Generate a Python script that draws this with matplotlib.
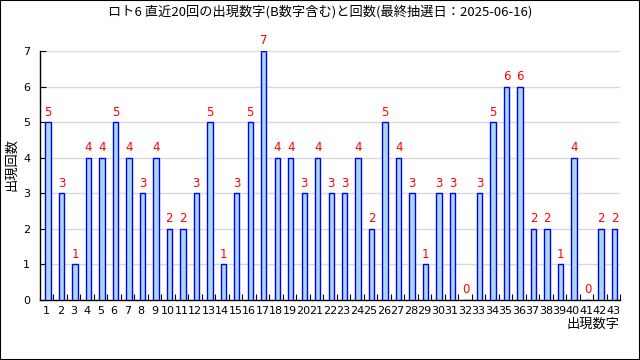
import matplotlib
matplotlib.use("Agg")
import matplotlib.pyplot as plt
from matplotlib.patches import Rectangle

plt.rcParams['font.family'] = ['Noto Sans CJK JP', 'DejaVu Sans']

numbers = list(range(1, 44))
counts = [5, 3, 1, 4, 4, 5, 4, 3, 4, 2, 2, 3, 5, 1, 3, 5, 7, 4, 4, 3, 4, 3, 3, 4, 2,
          5, 4, 3, 1, 3, 3, 0, 3, 5, 6, 6, 2, 2, 1, 4, 0, 2, 2]
title = "ロト6 直近20回の出現数字(B数字含む)と回数(最終抽選日：2025-06-16)"

fig = plt.figure(figsize=(6.4, 3.6), dpi=100)
ax = fig.add_axes([40/640, 60/360, 580/640, 249/360])

xs = [n + 0.09 for n in numbers]
ax.bar(xs, counts, width=0.4, color='#add8e6', edgecolor='#0000ff', linewidth=1.0, zorder=3)
for x, c in zip(xs, counts):
    ax.text(x, c + 0.1, str(c), color='red', ha='center', va='bottom', fontsize=8.5,
            family='DejaVu Sans', zorder=4)

ax.set_xlim(0.5, 43.5)
ax.set_ylim(0, 7)
ax.set_yticks(range(0, 8))
ax.set_xticks(numbers)
ax.set_xticklabels([str(n) for n in numbers], family='DejaVu Sans')
ax.set_xticks([n + 0.5 for n in numbers], minor=True)
ax.tick_params(axis='x', which='major', length=0, labelsize=8, pad=4)
ax.tick_params(axis='x', which='minor', length=4, direction='in', width=0.8)
ax.tick_params(axis='y', which='major', length=4, direction='in', labelsize=8, pad=7)
for lab in ax.get_yticklabels():
    lab.set_family('DejaVu Sans')
ax.yaxis.grid(True, color='#d9d9d9', linewidth=1, zorder=0)
ax.set_axisbelow(True)
for s in ['top', 'right']:
    ax.spines[s].set_visible(False)
ax.spines['left'].set_linewidth(1)
ax.spines['bottom'].set_linewidth(1)

fig.text(0.5, 1 - 12/360, title, ha='center', va='center', fontsize=9.5)
fig.text(12/640, 1 - 165/360, "出現回数", rotation=90, ha='center', va='center', fontsize=9.5)
fig.text(593/640, 1 - 324/360, "出現数字", ha='center', va='center', fontsize=9.5)

fig.patches.append(Rectangle((0, 0), 1, 1, transform=fig.transFigure, fill=False,
                             edgecolor='black', linewidth=1.5))

fig.savefig("out.png", dpi=100)
